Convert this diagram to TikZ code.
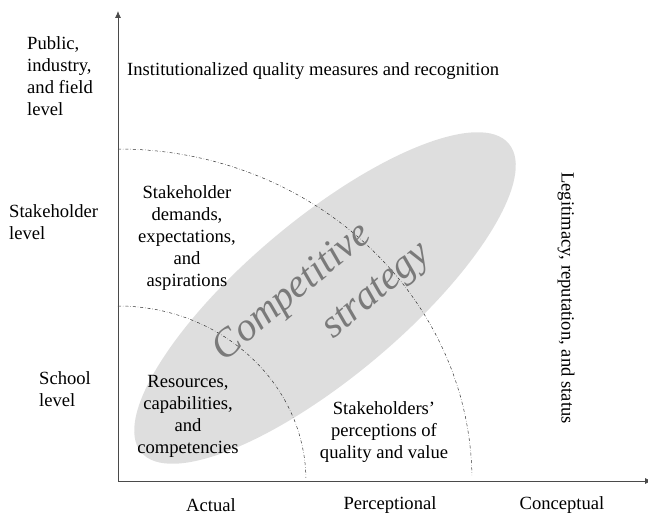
\documentclass[tikz,border=0pt]{standalone}
\usepackage{fontspec}
\setmainfont{LiberationSerif-Regular.ttf}[ItalicFont=LiberationSerif-Italic.ttf, BoldFont=LiberationSerif-Bold.ttf]
\usepackage{xcolor}
\usepackage{tikz}
\usetikzlibrary{shapes.geometric, arrows.meta, positioning, calc}
\definecolor{ellgray}{HTML}{DEDEDE}
\definecolor{axisgray}{HTML}{4A4A4A}
\definecolor{textgray}{HTML}{7A7A7A}
\tikzstyle{lvl} = [align=left, anchor=west, inner sep=0pt]
\tikzstyle{zone} = [align=center, inner sep=0pt]
\tikzstyle{cstext} = [inner sep=0pt, rotate=40, text=textgray, font=\fontsize{40}{44}\selectfont\itshape]
\tikzstyle{bound} = [dash dot, line width=0.5pt, black!80]
\tikzstyle{axis} = [line width=0.8pt, draw=axisgray, -{Latex[length=7pt, width=6pt]}]

\begin{document}
\begin{tikzpicture}[x=1pt, y=1pt, font=\fontsize{18.6}{22}\selectfont]
\useasboundingbox (0,0) rectangle (648,515);

% the strategy ellipse
\node (ell) [ellipse, fill=ellgray, minimum width=480pt, minimum height=158pt, inner sep=0pt, rotate=40] at (325,217) {};

\coordinate (o) at (118,34);
\coordinate (ytop) at (118,504);
\coordinate (xend) at (652,34);
\coordinate (inner) at (118,209);
\coordinate (outer) at (118,366);

% zone boundaries
\draw [bound] (inner) arc[start angle=90, end angle=1, x radius=188, y radius=175];
\draw [bound] (outer) arc[start angle=90, end angle=1, x radius=354, y radius=332];

% axes
\draw [axis] (o) -- (ytop);
\draw [axis] (o) -- (xend);

\node (comp) [cstext] at (293,222) {Competitive};
\node (strat) [cstext] at (378,222) {strategy};

% levels
\node (pub) [lvl] at (27,439) {Public,\\industry,\\and field\\level};
\node (stk) [lvl] at (9,293) {Stakeholder\\level};
\node (sch) [lvl] at (39,126) {School\\level};

% zones
\node (inst) [lvl] at (127,444) {Institutionalized quality measures and recognition};
\node (dem) [zone] at (187,277) {Stakeholder\\demands,\\expectations,\\and\\aspirations};
\node (res) [zone] at (188,99) {Resources,\\capabilities,\\and\\competencies};
\node (perc) [zone] at (384,83) {Stakeholders'\\perceptions of\\quality and value};
\node (legit) [zone, rotate=-90] at (566,217) {Legitimacy, reputation, and status};

% kinds of quality
\node (actual) [zone] at (211,10) {Actual};
\node (percl) [zone] at (390,10) {Perceptional};
\node (concl) [zone] at (562,10) {Conceptual};

\end{tikzpicture}
\end{document}
